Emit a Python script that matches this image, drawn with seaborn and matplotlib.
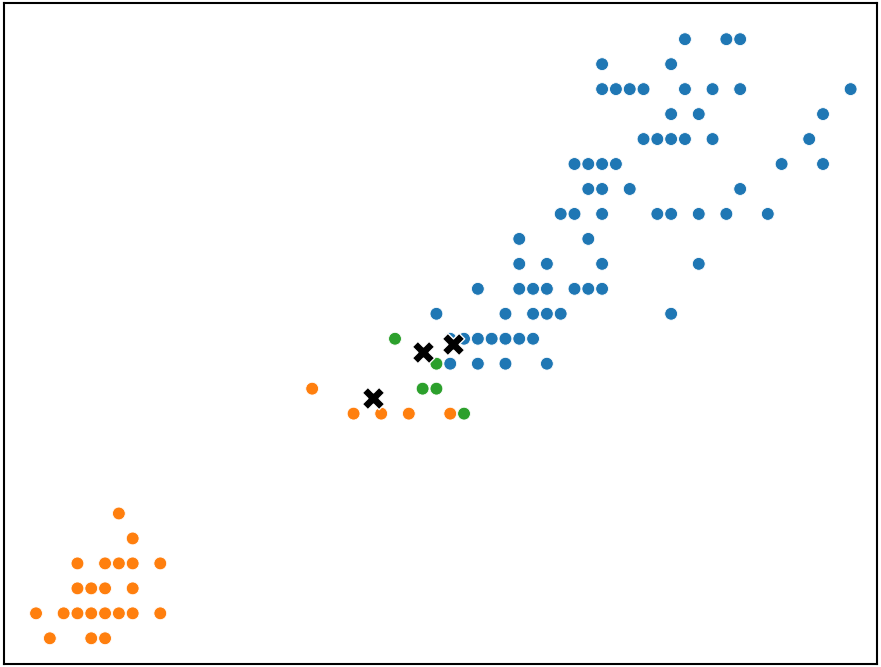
import matplotlib
matplotlib.use("Agg")
import matplotlib.pyplot as plt
import pandas as pd
import seaborn as sns

# Petal length / petal width of each flower, grouped by assigned cluster
cluster0_length = [5.7, 6.0, 6.1,
                   5.1, 5.6,
                   5.1, 5.2, 5.3, 5.4, 5.7, 5.9, 6.1, 6.9,
                   5.6, 5.8, 6.7,
                   5.4, 5.5, 5.6, 5.7, 5.9, 6.6,
                   4.9, 5.0, 5.1, 5.2, 6.4, 6.7,
                   5.0, 5.1, 5.3, 6.1,
                   4.8, 4.9, 5.1, 5.5, 5.6, 5.8, 6.0, 6.3,
                   4.5, 5.0,
                   4.5, 4.7, 5.1, 5.8,
                   4.2, 4.5, 4.6, 4.7, 4.9, 5.0, 5.1,
                   3.9, 4.4, 4.6, 4.7, 4.8, 5.6,
                   4.0, 4.1, 4.2, 4.3, 4.4, 4.5, 4.6,
                   4.0, 4.2, 4.4, 4.7]
cluster0_width = [2.5, 2.5, 2.5,
                  2.4, 2.4,
                  2.3, 2.3, 2.3, 2.3, 2.3, 2.3, 2.3, 2.3,
                  2.2, 2.2, 2.2,
                  2.1, 2.1, 2.1, 2.1, 2.1, 2.1,
                  2.0, 2.0, 2.0, 2.0, 2.0, 2.0,
                  1.9, 1.9, 1.9, 1.9,
                  1.8, 1.8, 1.8, 1.8, 1.8, 1.8, 1.8, 1.8,
                  1.7, 1.7,
                  1.6, 1.6, 1.6, 1.6,
                  1.5, 1.5, 1.5, 1.5, 1.5, 1.5, 1.5,
                  1.4, 1.4, 1.4, 1.4, 1.4, 1.4,
                  1.3, 1.3, 1.3, 1.3, 1.3, 1.3, 1.3,
                  1.2, 1.2, 1.2, 1.2]

cluster1_length = [1.6,
                   1.7,
                   1.3, 1.5, 1.6, 1.7, 1.9,
                   1.3, 1.4, 1.5, 1.7,
                   1.0, 1.2, 1.3, 1.4, 1.5, 1.6, 1.7, 1.9,
                   1.1, 1.4, 1.5,
                   3.0,
                   3.3, 3.5, 3.7, 4.0]
cluster1_width = [0.6,
                  0.5,
                  0.4, 0.4, 0.4, 0.4, 0.4,
                  0.3, 0.3, 0.3, 0.3,
                  0.2, 0.2, 0.2, 0.2, 0.2, 0.2, 0.2, 0.2,
                  0.1, 0.1, 0.1,
                  1.1,
                  1.0, 1.0, 1.0, 1.0]

cluster2_length = [3.6, 3.9, 3.8, 3.9, 4.1]
cluster2_width = [1.3, 1.2, 1.1, 1.1, 1.0]

# Cluster centres
centre_length = [3.44, 3.80, 4.02]
centre_width = [1.064, 1.248, 1.278]

cluster_colors = ["#1f77b4", "#ff7f0e", "#2ca02c"]

points = pd.DataFrame({
    "petal_length": cluster0_length + cluster1_length + cluster2_length,
    "petal_width": cluster0_width + cluster1_width + cluster2_width,
    "cluster": [0] * len(cluster0_length) + [1] * len(cluster1_length)
               + [2] * len(cluster2_length),
})
centres = pd.DataFrame({"petal_length": centre_length,
                        "petal_width": centre_width})

sns.set_style("white", {"axes.edgecolor": "black"})

fig = plt.figure(figsize=(8.81, 6.67), dpi=100)
ax = fig.add_axes([4 / 881, 3 / 667, 873 / 881, 661 / 667])

sns.scatterplot(data=points, x="petal_length", y="petal_width", hue="cluster",
                palette=cluster_colors, s=85, edgecolor="white", linewidth=0.6,
                legend=False, ax=ax)
sns.scatterplot(data=centres, x="petal_length", y="petal_width", marker="X",
                color="black", s=260, edgecolor="white", linewidth=1.0,
                legend=False, ax=ax)

ax.set_xlim(0.768, 7.091)
ax.set_ylim(-0.003, 2.645)
ax.set_xticks([])
ax.set_yticks([])
ax.set_xlabel("")
ax.set_ylabel("")
for spine in ax.spines.values():
    spine.set_linewidth(1.5)
    spine.set_color("black")

fig.savefig("out.png", dpi=100)
